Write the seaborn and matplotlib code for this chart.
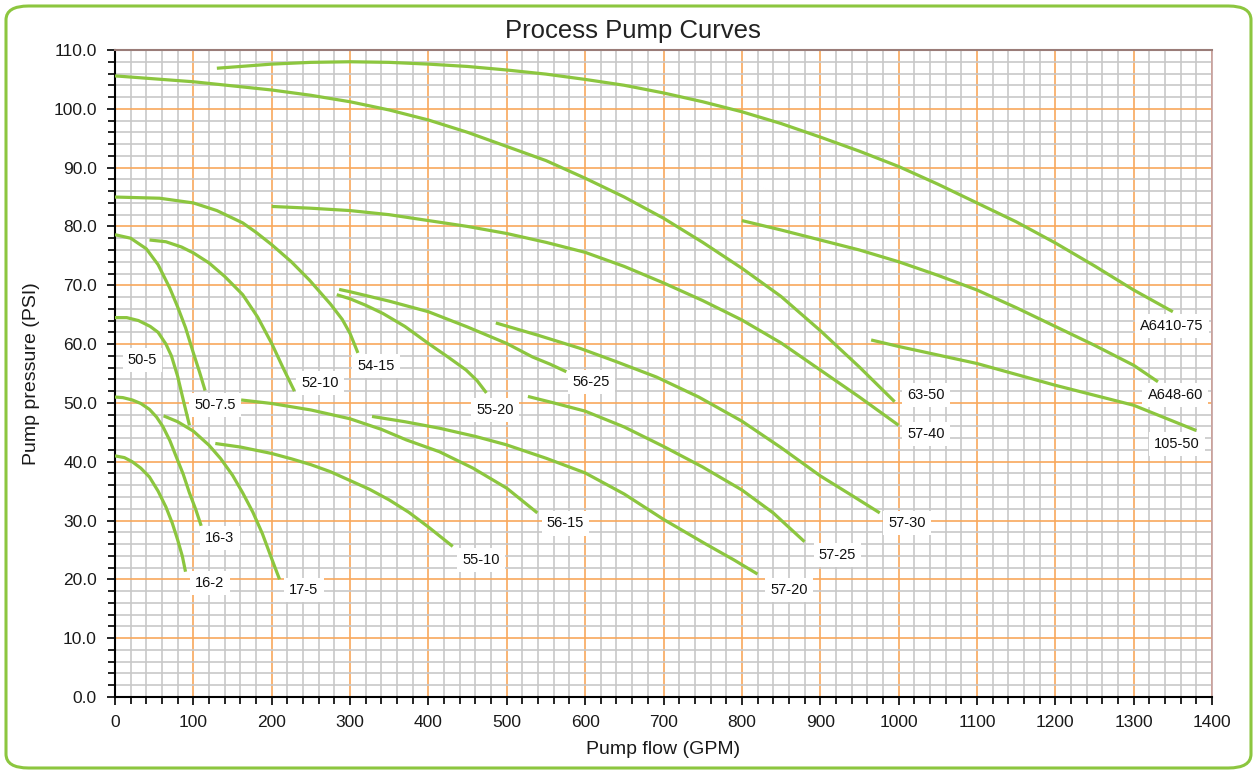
import matplotlib
matplotlib.use("Agg")
import matplotlib.pyplot as plt
from matplotlib.patches import FancyBboxPatch
from matplotlib.ticker import MultipleLocator, FormatStrFormatter
import seaborn as sns
import pandas as pd

# ---- data ----
flow_16_2 = [0, 12, 22, 33, 44, 55, 65, 73, 80, 86, 90]
psi_16_2 = [41.0, 40.7, 40.0, 38.9, 37.4, 35.0, 32.3, 29.6, 26.7, 23.9, 21.3]
flow_16_3 = [0, 10, 22, 33, 44, 53, 61, 70, 78, 87, 95, 103, 110]
psi_16_3 = [51.0, 50.9, 50.5, 49.9, 48.9, 47.6, 46.0, 43.6, 40.9, 37.9, 34.7, 31.9, 29.1]
flow_17_5 = [62, 80, 100, 120, 135, 150, 163, 176, 188, 200, 210]
psi_17_5 = [47.8, 46.8, 45.2, 42.8, 40.5, 37.7, 34.7, 31.4, 27.8, 23.5, 20.0]
flow_50_5 = [0, 15, 30, 45, 55, 65, 72, 80, 88, 95]
psi_50_5 = [64.5, 64.5, 64.0, 63.0, 62.0, 60.0, 58.0, 54.5, 50.0, 46.2]
flow_50_75 = [0, 20, 40, 55, 70, 80, 90, 100, 108, 115]
psi_50_75 = [78.6, 78.0, 76.2, 73.5, 69.5, 66.3, 62.8, 58.5, 55.2, 52.1]
flow_52_10 = [44, 65, 85, 100, 120, 140, 163, 182, 200, 214, 229]
psi_52_10 = [77.7, 77.4, 76.5, 75.5, 73.8, 71.5, 68.4, 64.6, 60.1, 56.1, 52.0]
flow_54_15 = [0, 57, 100, 130, 163, 180, 200, 225, 248, 275, 290, 300, 310]
psi_54_15 = [85.0, 84.8, 84.0, 82.7, 80.6, 79.0, 76.9, 74.0, 70.9, 66.8, 64.2, 61.8, 58.5]
flow_55_10 = [128, 160, 200, 225, 250, 275, 300, 325, 350, 375, 400, 431]
psi_55_10 = [43.1, 42.5, 41.4, 40.5, 39.5, 38.3, 36.8, 35.3, 33.5, 31.4, 28.9, 25.6]
flow_55_20 = [283, 300, 320, 342, 370, 400, 425, 448, 462, 474]
psi_55_20 = [68.4, 67.7, 66.6, 65.2, 63.0, 60.1, 57.8, 55.6, 53.8, 51.7]
flow_56_15 = [161, 200, 250, 300, 340, 372, 414, 457, 500, 539]
psi_56_15 = [50.5, 49.9, 48.8, 47.3, 45.5, 43.7, 41.7, 38.9, 35.5, 31.3]
flow_56_25 = [286, 300, 350, 400, 450, 500, 533, 555, 576]
psi_56_25 = [69.3, 68.9, 67.3, 65.5, 62.9, 60.1, 57.8, 56.6, 55.3]
flow_57_20 = [328, 370, 414, 460, 499, 550, 600, 650, 700, 754, 790, 820]
psi_57_20 = [47.7, 46.8, 45.7, 44.3, 42.9, 40.6, 38.1, 34.5, 30.2, 26.0, 23.3, 20.9]
flow_57_25 = [527, 560, 600, 650, 700, 750, 800, 840, 880]
psi_57_25 = [51.1, 50.0, 48.6, 45.9, 42.6, 39.1, 35.2, 31.3, 26.4]
flow_57_30 = [486, 540, 593, 640, 691, 745, 800, 850, 900, 940, 976]
psi_57_30 = [63.6, 61.5, 59.3, 57.0, 54.4, 51.0, 46.9, 42.4, 37.6, 34.3, 31.3]
flow_57_40 = [200, 250, 300, 350, 400, 450, 500, 550, 600, 650, 700, 750, 800, 850, 900, 950, 1000]
psi_57_40 = [83.4, 83.1, 82.7, 82.0, 81.0, 80.0, 78.8, 77.3, 75.6, 73.2, 70.4, 67.4, 64.1, 60.2, 55.6, 51.0, 46.2]
flow_63_50 = [0, 100, 200, 250, 300, 350, 400, 450, 500, 550, 600, 650, 700, 750, 800, 850, 900, 950, 995]
psi_63_50 = [105.6, 104.6, 103.2, 102.3, 101.2, 99.8, 98.1, 96.0, 93.6, 91.2, 88.2, 85.0, 81.4, 77.3, 72.9, 68.1, 62.3, 56.1, 50.2]
flow_105_50 = [965, 1000, 1100, 1200, 1300, 1380]
psi_105_50 = [60.7, 59.6, 56.7, 53.0, 49.6, 45.3]
flow_a648_60 = [800, 850, 900, 950, 1000, 1050, 1100, 1150, 1200, 1250, 1300, 1331]
psi_a648_60 = [81.0, 79.4, 77.7, 76.0, 74.0, 71.7, 69.2, 66.2, 63.0, 59.8, 56.4, 53.6]
flow_a6410_75 = [130, 200, 250, 300, 350, 400, 450, 500, 550, 600, 650, 700, 750, 800, 850,
                 900, 950, 1000, 1050, 1100, 1150, 1200, 1250, 1300, 1350]
psi_a6410_75 = [106.9, 107.6, 107.9, 108.0, 107.9, 107.6, 107.2, 106.6, 105.9, 105.0, 104.0,
                102.7, 101.2, 99.5, 97.5, 95.2, 92.8, 90.2, 87.2, 84.0, 80.8, 77.2, 73.3, 69.2, 65.5]

pump_names = ["16-2", "16-3", "17-5", "50-5", "50-7.5", "52-10", "54-15", "55-10",
              "55-20", "56-15", "56-25", "57-20", "57-25", "57-30", "57-40", "63-50",
              "105-50", "A648-60", "A6410-75"]
pump_flows = [flow_16_2, flow_16_3, flow_17_5, flow_50_5, flow_50_75, flow_52_10, flow_54_15,
              flow_55_10, flow_55_20, flow_56_15, flow_56_25, flow_57_20, flow_57_25, flow_57_30,
              flow_57_40, flow_63_50, flow_105_50, flow_a648_60, flow_a6410_75]
pump_psis = [psi_16_2, psi_16_3, psi_17_5, psi_50_5, psi_50_75, psi_52_10, psi_54_15,
             psi_55_10, psi_55_20, psi_56_15, psi_56_25, psi_57_20, psi_57_25, psi_57_30,
             psi_57_40, psi_63_50, psi_105_50, psi_a648_60, psi_a6410_75]

# label anchor positions (data coords, text centre)
label_flow = [121, 134, 241, 35, 128, 262, 333, 467, 485, 575, 608, 860, 922, 1011, 1035, 1035, 1355, 1353, 1349]
label_psi = [19.4, 27.0, 18.2, 57.3, 49.7, 53.4, 56.3, 23.3, 48.8, 29.5, 53.6, 18.2, 24.1, 29.6, 44.7, 51.4, 43.0, 51.4, 63.1]

title_text = "Process Pump Curves"
x_label = "Pump flow (GPM)"
y_label = "Pump pressure (PSI)"

# ---- build long table ----
rows = []
for name, fl, ps in zip(pump_names, pump_flows, pump_psis):
    for f, p in zip(fl, ps):
        rows.append({"pump": name, "flow": f, "psi": p})
df = pd.DataFrame(rows)

sns.set_theme(style="white")
plt.rcParams["font.family"] = ["Liberation Sans", "DejaVu Sans"]

GREEN = "#8cc63f"
ORANGE = "#f8a85c"
GRAY = "#c8c8c8"

fig = plt.figure(figsize=(12.57, 7.74), dpi=100)
ax = fig.add_axes([115 / 1257, 77 / 774, 1097 / 1257, 647 / 774])

sns.lineplot(data=df, x="flow", y="psi", hue="pump", units="pump", estimator=None,
             sort=False, palette={n: GREEN for n in pump_names}, linewidth=2.3,
             legend=False, ax=ax, zorder=3)
for ln in ax.get_lines():
    ln.set_solid_joinstyle("round")
    ln.set_solid_capstyle("butt")

ax.set_xlim(0, 1400)
ax.set_ylim(0, 110)
ax.xaxis.set_major_locator(MultipleLocator(100))
ax.xaxis.set_minor_locator(MultipleLocator(20))
ax.yaxis.set_major_locator(MultipleLocator(10))
ax.yaxis.set_minor_locator(MultipleLocator(2))
ax.yaxis.set_major_formatter(FormatStrFormatter("%.1f"))

ax.grid(which="minor", color=GRAY, linewidth=1.2, zorder=0)
ax.grid(which="major", color=ORANGE, linewidth=1.2, zorder=1)
ax.set_axisbelow(True)

ax.tick_params(which="both", direction="out", color="black", width=1.2,
               bottom=True, left=True, top=False, right=False)
ax.tick_params(which="major", length=6, labelsize=12.5, pad=7, labelcolor="#1a1a1a")
ax.tick_params(which="minor", length=5)

for side in ["left", "bottom"]:
    ax.spines[side].set_color("black")
    ax.spines[side].set_linewidth(1.5)
ax.spines["top"].set_color("#9a7c78")
ax.spines["top"].set_linewidth(1.5)
ax.spines["right"].set_color("#c4a0a0")
ax.spines["right"].set_linewidth(1.2)

ax.set_xlabel(x_label, fontsize=14, labelpad=8, color="#1a1a1a")
ax.set_ylabel(y_label, fontsize=14, labelpad=10, color="#1a1a1a")

for name, lx, ly in zip(pump_names, label_flow, label_psi):
    ax.text(lx, ly, name, ha="center", va="center", fontsize=10.5, color="#111111",
            zorder=5, bbox=dict(boxstyle="square,pad=0.35", facecolor="white",
                                edgecolor="none"))

fig.text(633 / 1257, 1 - 31 / 774, title_text, ha="center", va="center",
         fontsize=18.5, color="#222222")

border = FancyBboxPatch((6 / 1257, 6 / 774), 1245 / 1257, 762 / 774,
                        boxstyle="round,pad=0,rounding_size=0.018",
                        transform=fig.transFigure, facecolor="none",
                        edgecolor=GREEN, linewidth=2.2, zorder=10)
fig.patches.append(border)

fig.savefig("out.png", dpi=100)
